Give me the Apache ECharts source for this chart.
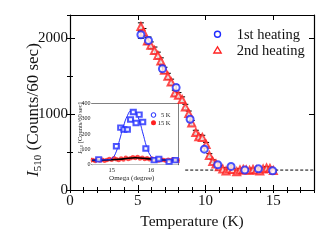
<!DOCTYPE html>
<html><head><meta charset="utf-8">
<script src="https://cdn.jsdelivr.net/npm/echarts@6/dist/echarts.min.js"></script>
<style>html,body{margin:0;padding:0;background:#fff;overflow:hidden}#c{width:331px;height:248px}</style>
</head><body><div id="c"></div>
<script>
// ---- Main panel data ----
const T1 = [5.23, 5.79, 6.82, 7.83, 8.86, 9.91, 10.9, 11.88, 12.9, 13.9, 14.95];
const I1 = [2040, 1966, 1595, 1346, 930, 537, 332, 310, 262, 280, 253];
const E1 = [46, 45, 40, 38, 32, 25, 20, 19, 18, 18, 17];

const T2 = [5.23,5.42,5.71,5.96,6.23,6.48,6.70,6.97,7.22,7.46,7.73,8.00,8.27,8.51,8.76,8.98,9.28,9.50,9.76,10.04,10.28,10.53,10.77,11.02,11.27,11.51,11.75,12.00,12.30,12.54,12.78,13.00,13.25,13.50,13.75,14.00,14.25,14.50,14.75,15.00];
const I2 = [2149,2075,1957,1901,1835,1769,1695,1573,1494,1419,1275,1245,1189,1092,1005,882,756,699,691,599,455,376,341,305,275,249,275,269,240,262,269,262,258,270,262,250,275,290,283,255];
const E2 = [48,47,45,45,44,43,42,40,40,38,37,36,35,34,33,31,29,28,28,26,23,21,20,19,18,17,18,17,17,17,17,17,17,17,17,17,18,18,18,17];

const BASE_T = [8.5, 18];
const BASE_I = [262, 262];

const X_TICKS = [0, 5, 10, 15];
const Y_TICKS = [0, 1000, 2000];

// ---- Inset data ----
const W5 = [14.67,15.12,15.23,15.31,15.40,15.48,15.55,15.62,15.70,15.79,15.87,16.08,16.20,16.46,16.62];
const I5 = [35,121,242,230,230,295,344,273,327,279,106,30,37,20,30];
const E5 = [12,14,16,16,16,17,18,17,18,17,14,12,12,12,12];

const W15 = [14.52,14.58,14.64,14.70,14.76,14.82,14.88,14.94,15.00,15.06,15.12,15.18,15.24,15.30,15.36,15.42,15.48,15.54,15.60,15.66,15.72,15.78,15.84,15.90,15.96,16.02,16.08,16.14,16.20,16.26,16.32,16.38,16.44,16.50,16.56,16.62,16.68];
const I15 = [30,25,35,28,32,26,30,38,32,42,36,30,40,34,45,38,42,48,44,50,40,46,38,42,35,40,32,36,28,34,30,26,32,28,35,30,27];
const E15 = [12,12,12,12,12,12,12,12,12,12,12,12,12,12,12,12,12,12,12,12,12,12,12,12,12,12,12,12,12,12,12,12,12,12,12,12,12];

const FIT5_W = [14.5,14.9,15.0,15.1,15.2,15.3,15.4,15.5,15.6,15.7,15.8,15.9,16.0,16.1,16.2,16.7];
const FIT5_I = [30,32,40,75,160,250,320,352,345,290,200,110,55,35,31,30];
const FIT15_W = [14.5,15.0,15.3,15.6,15.9,16.2,16.7];
const FIT15_I = [28,32,38,45,40,32,28];

const IN_X_TICKS = [15, 16];
const IN_Y_TICKS = [0, 100, 200, 300, 400];

const FONT = "'Liberation Serif','Times New Roman',serif";
const BLUE = '#1f2bff', RED = '#ff2020';

function zip(a, b, c) { return a.map((v, i) => c ? [v, b[i], c[i]] : [v, b[i]]); }

function errSeries(xs, ys, es, color, capHalf, xi, yi) {
  return {
    type: 'custom', xAxisIndex: xi, yAxisIndex: yi, silent: true, z: 1,
    data: zip(xs, ys, es),
    renderItem: function (params, api) {
      const x = api.value(0), y = api.value(1), e = api.value(2);
      const a = api.coord([x, y + e]), b = api.coord([x, y - e]);
      const st = { stroke: color, lineWidth: 1 };
      return { type: 'group', children: [
        { type: 'line', shape: { x1: a[0], y1: a[1], x2: b[0], y2: b[1] }, style: st },
        { type: 'line', shape: { x1: a[0] - capHalf, y1: a[1], x2: a[0] + capHalf, y2: a[1] }, style: st },
        { type: 'line', shape: { x1: b[0] - capHalf, y1: b[1], x2: b[0] + capHalf, y2: b[1] }, style: st }
      ] };
    }
  };
}

const lineS = { color: '#000', width: 1.2 };
function ax(extra) {
  return Object.assign({
    type: 'value', splitLine: { show: false },
    axisLine: { show: true, onZero: false, lineStyle: lineS },
    axisTick: { show: true, inside: true, length: 5, lineStyle: { color: '#000', width: 1 } },
    axisLabel: { show: false }
  }, extra);
}

const xAxes = [
  ax({ gridIndex: 0, position: 'bottom', min: 0, max: 18, interval: 5,
       axisLabel: { show: true, fontFamily: FONT, fontSize: 15, color: '#111', margin: 4,
         formatter: v => X_TICKS.includes(v) ? String(v) : '' },
       name: 'Temperature (K)', nameLocation: 'middle', nameGap: 21,
       nameTextStyle: { fontFamily: FONT, fontSize: 15.5, color: '#111' } }),
  ax({ gridIndex: 0, position: 'bottom', min: 0, max: 18, interval: 1, axisLine: { show: false },
       axisTick: { show: true, inside: true, length: 3, lineStyle: { color: '#000' } } }),
  ax({ gridIndex: 0, position: 'top', min: 0, max: 18, interval: 5 }),
  ax({ gridIndex: 0, position: 'top', min: 0, max: 18, interval: 1, axisLine: { show: false },
       axisTick: { show: true, inside: true, length: 3, lineStyle: { color: '#000' } } }),
  ax({ gridIndex: 1, position: 'bottom', min: 14.5, max: 16.7, interval: 0.5,
       axisLine: { show: true, onZero: false, lineStyle: { color: '#000', width: 1 } },
       axisTick: { show: true, inside: true, length: 3, lineStyle: { color: '#000', width: 0.8 } },
       axisLabel: { show: true, fontFamily: FONT, fontSize: 6.5, color: '#222', margin: 2,
         formatter: v => IN_X_TICKS.includes(v) ? String(v) : '' },
       name: 'Omega (degree)', nameLocation: 'middle', nameGap: 9,
       nameTextStyle: { fontFamily: FONT, fontSize: 7, color: '#222', padding: [0, 7, 0, 0] } }),
  ax({ gridIndex: 1, position: 'top', min: 14.5, max: 16.7, interval: 0.5,
       axisLine: { show: true, onZero: false, lineStyle: { color: '#000', width: 1 } },
       axisTick: { show: true, inside: true, length: 3, lineStyle: { color: '#000', width: 0.8 } } })
];

const yAxes = [
  ax({ gridIndex: 0, position: 'left', min: 0, max: 2300, interval: 1000,
       axisLabel: { show: true, fontFamily: FONT, fontSize: 15, color: '#111', margin: 2,
         formatter: v => Y_TICKS.includes(v) ? String(v) : '' } }),
  ax({ gridIndex: 0, position: 'left', min: 0, max: 2300, interval: 500, axisLine: { show: false },
       axisTick: { show: true, inside: true, length: 3, lineStyle: { color: '#000' } } }),
  ax({ gridIndex: 0, position: 'right', min: 0, max: 2300, interval: 1000 }),
  ax({ gridIndex: 0, position: 'right', min: 0, max: 2300, interval: 500, axisLine: { show: false },
       axisTick: { show: true, inside: true, length: 3, lineStyle: { color: '#000' } } }),
  ax({ gridIndex: 1, position: 'left', min: 0, max: 400, interval: 50,
       axisLine: { show: true, onZero: false, lineStyle: { color: '#000', width: 1 } },
       axisTick: { show: true, inside: true, length: 2.5, lineStyle: { color: '#000', width: 0.8 } },
       axisLabel: { show: true, fontFamily: FONT, fontSize: 6, color: '#222', margin: 1.5,
         formatter: v => IN_Y_TICKS.includes(v) ? String(v) : '' } }),
  ax({ gridIndex: 1, position: 'right', min: 0, max: 400, interval: 50,
       axisLine: { show: true, onZero: false, lineStyle: { color: '#000', width: 1 } },
       axisTick: { show: true, inside: true, length: 2.5, lineStyle: { color: '#000', width: 0.8 } } })
];

const series = [
  errSeries(T2, I2, E2, '#000', 3, 0, 0),
  errSeries(T1, I1, E1, '#000', 3, 0, 0),
  { name: '2nd heating', type: 'scatter', xAxisIndex: 0, yAxisIndex: 0, z: 3,
    symbol: 'emptyTriangle', symbolSize: 7,
    itemStyle: { color: RED, borderColor: RED, borderWidth: 1.3 }, data: zip(T2, I2) },
  { name: '1st heating', type: 'scatter', xAxisIndex: 0, yAxisIndex: 0, z: 4,
    symbol: 'emptyCircle', symbolSize: 7,
    itemStyle: { color: BLUE, borderColor: BLUE, borderWidth: 1.4 }, data: zip(T1, I1) },
  { type: 'line', xAxisIndex: 0, yAxisIndex: 0, z: 2, symbol: 'none', silent: true,
    lineStyle: { color: '#000', width: 1, type: [3, 2] }, data: zip(BASE_T, BASE_I) },
  // inset
  errSeries(W15, I15, E15, RED, 1.8, 4, 4),
  { name: '15 K', type: 'scatter', xAxisIndex: 4, yAxisIndex: 4, z: 3, symbol: 'circle', symbolSize: 4.5,
    itemStyle: { color: RED }, data: zip(W15, I15) },
  { type: 'line', xAxisIndex: 4, yAxisIndex: 4, z: 4, symbol: 'none', smooth: true, silent: true,
    lineStyle: { color: '#000', width: 1.6 }, data: zip(FIT15_W, FIT15_I) },
  errSeries(W5, I5, E5, BLUE, 2.5, 4, 4),
  { name: '5 K', type: 'scatter', xAxisIndex: 4, yAxisIndex: 4, z: 5, symbol: 'emptyRect', symbolSize: [5, 4.5],
    itemStyle: { color: BLUE, borderColor: BLUE, borderWidth: 1 }, data: zip(W5, I5) },
  { type: 'line', xAxisIndex: 4, yAxisIndex: 4, z: 5, symbol: 'none', smooth: true, silent: true,
    lineStyle: { color: BLUE, width: 1 }, data: zip(FIT5_W, FIT5_I) }
];

const graphic = [
  { type: 'text', x: 34, y: 110, rotation: Math.PI / 2, z: 10,
    style: { text: '{i|I}{s|510}{n| (Counts/60 sec)}', align: 'center', verticalAlign: 'middle',
      fill: '#111', fontFamily: FONT,
      rich: { i: { fontFamily: FONT, fontSize: 17, fontStyle: 'italic', fill: '#111' },
              s: { fontFamily: FONT, fontSize: 11, fill: '#111', padding: [8, 0, 0, 0] },
              n: { fontFamily: FONT, fontSize: 17, fill: '#111' } } } },
  { type: 'circle', shape: { cx: 217.5, cy: 34.3, r: 3 }, style: { fill: '#fff', stroke: BLUE, lineWidth: 1.4 }, z: 10 },
  { type: 'text', x: 236.7, y: 35, style: { text: '1st heating', fontFamily: FONT, fontSize: 14.5, fill: '#111', verticalAlign: 'middle' }, z: 10 },
  { type: 'polygon', shape: { points: [[217.5, 46.8], [213.8, 53], [221.2, 53]] }, style: { fill: '#fff', stroke: RED, lineWidth: 1.3 }, z: 10 },
  { type: 'text', x: 236.7, y: 51.3, style: { text: '2nd heating', fontFamily: FONT, fontSize: 14.5, fill: '#111', verticalAlign: 'middle' }, z: 10 },
  { type: 'text', x: 80, y: 128, rotation: Math.PI / 2, z: 10,
    style: { text: '{i|I}{s|510}{n| [Counts/60 sec]}', align: 'center', verticalAlign: 'middle',
      fill: '#222', fontFamily: FONT,
      rich: { i: { fontFamily: FONT, fontSize: 6.5, fontStyle: 'italic', fill: '#222' },
              s: { fontFamily: FONT, fontSize: 4.5, fill: '#222', padding: [3, 0, 0, 0] },
              n: { fontFamily: FONT, fontSize: 6.5, fill: '#222' } } } },
  { type: 'circle', shape: { cx: 153.5, cy: 115, r: 2.3 }, style: { fill: '#fff', stroke: BLUE, lineWidth: 1 }, z: 10 },
  { type: 'text', x: 170.5, y: 115.3, style: { text: '5 K', fontFamily: FONT, fontSize: 6.5, fill: '#222', align: 'right', verticalAlign: 'middle' }, z: 10 },
  { type: 'circle', shape: { cx: 153.5, cy: 122.7, r: 2.5 }, style: { fill: RED }, z: 10 },
  { type: 'text', x: 170.5, y: 123, style: { text: '15 K', fontFamily: FONT, fontSize: 6.5, fill: '#222', align: 'right', verticalAlign: 'middle' }, z: 10 }
];

const chart = echarts.init(document.getElementById('c'));
chart.setOption({
  animation: false,
  backgroundColor: '#fff',
  grid: [
    { left: 70, top: 15, width: 244, height: 175, show: false },
    { left: 92, top: 103.5, width: 86.5, height: 61.2, show: true, backgroundColor: '#fff', borderWidth: 0, z: 3 }
  ],
  xAxis: xAxes,
  yAxis: yAxes,
  series: series,
  graphic: graphic
});
</script>
</body></html>
